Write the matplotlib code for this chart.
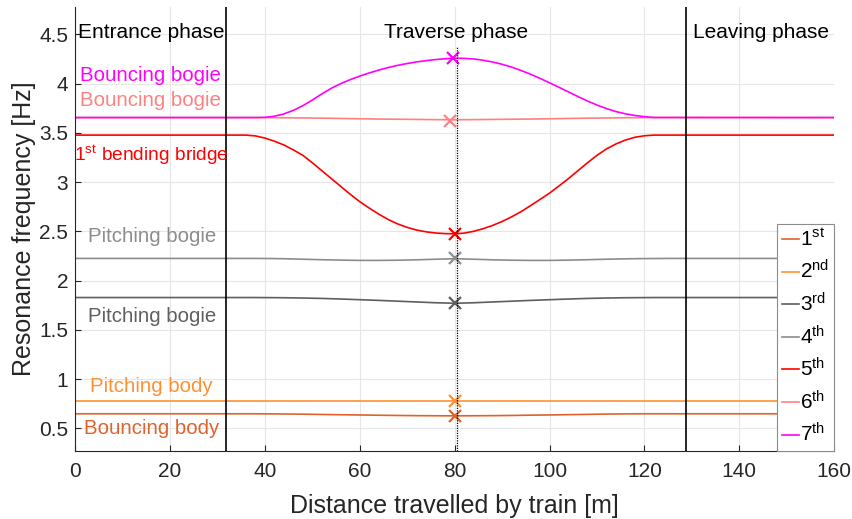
import numpy as np
import matplotlib
matplotlib.use('Agg')
import matplotlib.pyplot as plt
from matplotlib.ticker import FuncFormatter

plt.rcParams['font.family'] = 'Liberation Sans'
plt.rcParams['mathtext.fontset'] = 'custom'
plt.rcParams['mathtext.rm'] = 'Liberation Sans'
plt.rcParams['mathtext.it'] = 'Liberation Sans:italic'

# position of the train [m]
dist = [0, 30, 35, 38, 41, 44, 48, 52, 56, 60, 64, 68, 72, 76, 80,
        84, 88, 92, 96, 100, 104, 108, 112, 116, 119, 122, 125, 130, 160]
# finer positions for the modes that change a lot on the bridge
dist_fine = [0] + list(range(36, 123, 2)) + [160]

# resonance frequencies of the coupled system [Hz]
mode1 = [0.648, 0.648, 0.648, 0.648, 0.647, 0.646, 0.644, 0.641, 0.638, 0.636,
         0.633, 0.631, 0.629, 0.628, 0.627, 0.628, 0.629, 0.631, 0.634, 0.636,
         0.639, 0.642, 0.645, 0.647, 0.648, 0.648, 0.648, 0.648, 0.648]
mode2 = [0.777] * 29
mode3 = [1.828, 1.828, 1.828, 1.828, 1.827, 1.826, 1.823, 1.819, 1.813, 1.806,
         1.799, 1.791, 1.783, 1.775, 1.770, 1.775, 1.783, 1.791, 1.799, 1.806,
         1.813, 1.819, 1.823, 1.826, 1.827, 1.828, 1.828, 1.828, 1.828]
mode4 = [2.225, 2.225, 2.225, 2.225, 2.224, 2.222, 2.217, 2.212, 2.208, 2.205,
         2.205, 2.207, 2.211, 2.217, 2.222, 2.217, 2.211, 2.207, 2.205, 2.205,
         2.208, 2.212, 2.217, 2.221, 2.223, 2.224, 2.225, 2.225, 2.225]
mode5 = [3.477,
         3.477, 3.469, 3.447, 3.415, 3.377, 3.327, 3.272, 3.196, 3.116, 3.036,
         2.956, 2.876, 2.801, 2.736, 2.675, 2.620, 2.575, 2.540, 2.513, 2.495,
         2.483, 2.477, 2.475, 2.482, 2.500, 2.527, 2.560, 2.600, 2.647, 2.700,
         2.761, 2.824, 2.888, 2.961, 3.036, 3.116, 3.196, 3.272, 3.337, 3.387,
         3.427, 3.455, 3.470, 3.477,
         3.477]
mode6 = [3.655, 3.655, 3.655, 3.655, 3.654, 3.653, 3.651, 3.649, 3.646, 3.643,
         3.640, 3.638, 3.636, 3.634, 3.633, 3.634, 3.636, 3.638, 3.640, 3.643,
         3.646, 3.649, 3.651, 3.653, 3.654, 3.655, 3.655, 3.655, 3.655]
mode7 = [3.655,
         3.655, 3.655, 3.657, 3.668, 3.692, 3.728, 3.775, 3.833, 3.895, 3.952,
         4.000, 4.040, 4.076, 4.108, 4.137, 4.163, 4.185, 4.204, 4.220, 4.233,
         4.244, 4.252, 4.258, 4.256, 4.250, 4.237, 4.219, 4.196, 4.167, 4.133,
         4.095, 4.053, 4.008, 3.962, 3.915, 3.868, 3.823, 3.782, 3.746, 3.716,
         3.693, 3.676, 3.664, 3.656,
         3.655]

# frequencies at mid-span
mid_x = [80, 80, 80, 80, 80, 79, 79.7]
mid_f = [0.625, 0.777, 1.77, 2.225, 2.475, 3.62, 4.258]

legend_labels = ['1$^{\\rm st}$', '2$^{\\rm nd}$', '3$^{\\rm rd}$', '4$^{\\rm th}$',
                 '5$^{\\rm th}$', '6$^{\\rm th}$', '7$^{\\rm th}$']
colors = ['#E0622A', '#FF9030', '#5F5F5F', '#8C8C8C', '#FF0000', '#FF8080', '#FF00FF']

entrance_end = 31.8
leaving_start = 128.7
mid_line = 80.4

fig = plt.figure(figsize=(8.53, 5.19), dpi=100)
ax = fig.add_axes([0.088, 0.131, 0.89, 0.856])

modes = [(dist, mode1), (dist, mode2), (dist, mode3), (dist, mode4),
         (dist_fine, mode5), (dist, mode6), (dist_fine, mode7)]
for (xs, m), c, lab in zip(modes, colors, legend_labels):
    ax.plot(xs, m, '-', color=c, lw=1.2, label=lab)
for xm, fm, c in zip(mid_x, mid_f, colors):
    ax.plot(xm, fm, 'x', color=c, ms=8, mew=1.6)

ax.axvline(entrance_end, color='k', lw=1.2)
ax.axvline(leaving_start, color='k', lw=1.2)
ax.vlines(mid_line, 0.27, 4.37, color='k', lw=0.9, linestyles=(0, (1, 1)))

ax.text(0.7, 4.52, 'Entrance phase', fontsize=15, va='center')
ax.text(80.3, 4.52, 'Traverse phase', fontsize=15, va='center', ha='center')
ax.text(130.3, 4.52, 'Leaving phase', fontsize=15, va='center')

fs = 14.7
ax.text(1.1, 4.08, 'Bouncing bogie', color='#FF00FF', fontsize=fs, va='center')
ax.text(1.1, 3.83, 'Bouncing bogie', color='#FF8080', fontsize=fs, va='center')
ax.text(-0.3, 3.27, '1$^{\\rm st}$ bending bridge', color='#FF0000', fontsize=13.8, va='center')
ax.text(2.7, 2.45, 'Pitching bogie', color='#8C8C8C', fontsize=fs, va='center')
ax.text(2.7, 1.64, 'Pitching bogie', color='#5F5F5F', fontsize=fs, va='center')
ax.text(3.2, 0.92, 'Pitching body', color='#FF9030', fontsize=fs, va='center')
ax.text(1.9, 0.50, 'Bouncing body', color='#E0622A', fontsize=fs, va='center')

ax.set_xlim(0, 160)
ax.set_ylim(0.27, 4.78)
ax.set_xticks(np.arange(0, 161, 20))
ax.set_yticks(np.arange(0.5, 4.51, 0.5))
ax.yaxis.set_major_formatter(FuncFormatter(lambda v, p: '%g' % v))
ax.grid(True, color='#E6E6E6', lw=0.8)
ax.set_axisbelow(True)
for s in ['top', 'right']:
    ax.spines[s].set_visible(False)
for s in ['left', 'bottom']:
    ax.spines[s].set_color('#262626')
    ax.spines[s].set_linewidth(0.8)
ax.tick_params(direction='in', length=4, color='#262626', labelcolor='#262626',
               labelsize=15)
ax.tick_params(axis='x', pad=8)
ax.tick_params(axis='y', pad=5)

ax.set_xlabel('Distance travelled by train [m]', fontsize=18, color='#262626', labelpad=9)
ax.set_ylabel('Resonance frequency [Hz]', fontsize=18, color='#262626', labelpad=2.5)

leg = ax.legend(loc='lower right', bbox_to_anchor=(1.0, 0.0), borderaxespad=0,
                fontsize=15, handlelength=0.8, handletextpad=0.05,
                labelspacing=0.45, borderpad=0.25, fancybox=False, framealpha=1)
leg.get_frame().set_edgecolor('#8C8C8C')
leg.get_frame().set_linewidth(0.8)

fig.savefig('out.png', dpi=100)
